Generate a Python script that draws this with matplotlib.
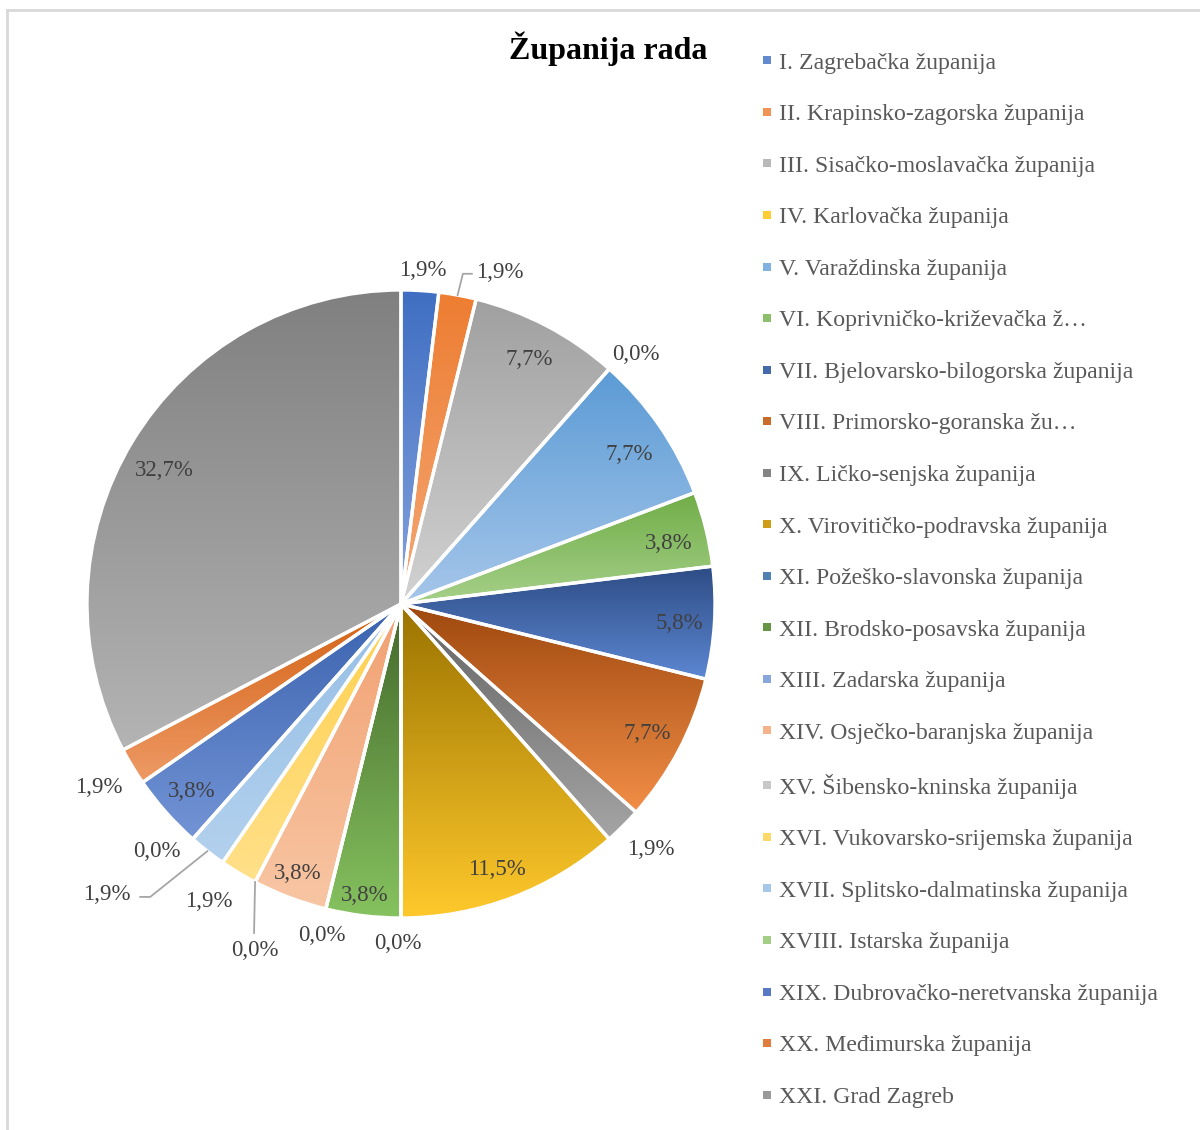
import numpy as np
import matplotlib
matplotlib.use("Agg")
import matplotlib.pyplot as plt
from matplotlib.colors import to_rgb
from matplotlib.lines import Line2D

plt.rcParams['font.family'] = ['Liberation Serif', 'DejaVu Serif']

# data: number of answers per county (52 in total)
zupanije = [
    "I. Zagrebačka županija",
    "II. Krapinsko-zagorska županija",
    "III. Sisačko-moslavačka županija",
    "IV. Karlovačka županija",
    "V. Varaždinska županija",
    "VI. Koprivničko-križevačka ž…",
    "VII. Bjelovarsko-bilogorska županija",
    "VIII. Primorsko-goranska žu…",
    "IX. Ličko-senjska županija",
    "X. Virovitičko-podravska županija",
    "XI. Požeško-slavonska županija",
    "XII. Brodsko-posavska županija",
    "XIII. Zadarska županija",
    "XIV. Osječko-baranjska županija",
    "XV. Šibensko-kninska županija",
    "XVI. Vukovarsko-srijemska županija",
    "XVII. Splitsko-dalmatinska županija",
    "XVIII. Istarska županija",
    "XIX. Dubrovačko-neretvanska županija",
    "XX. Međimurska županija",
    "XXI. Grad Zagreb",
]
odgovori = [1, 1, 4, 0, 4, 2, 3, 4, 1, 6, 0, 2, 0, 2, 0, 1, 1, 0, 2, 1, 17]

# gradient colours (top -> bottom of each slice)
top_col = ["#3F6EC2", "#ED7D31", "#A0A0A0", "#FFC000", "#5B9BD5", "#70AD47",
           "#2E4C85", "#9E480E", "#636363", "#9A7300", "#255E91", "#43682B",
           "#698ED0", "#F1A070", "#B7B7B7", "#FFD04D", "#95BEE5", "#8CC168",
           "#3A62AE", "#D26012", "#808080"]
bot_col = ["#86A3DD", "#F4A877", "#D2D2D2", "#FFD966", "#A6C6EA", "#A6D08A",
           "#5C87D2", "#F28E47", "#A5A5A5", "#FFC92C", "#7AA6D6", "#86C25F",
           "#A6BEE8", "#F8C6A4", "#D9D9D9", "#FFE08A", "#B3D1EE", "#B9DBA3",
           "#7394D6", "#EE9A66", "#B4B4B4"]

# label placement (radius factor, angle shift in degrees)
lab_r = [1.075, 1.11, 0.886, 1.10, 0.873, 0.877, 0.887, 0.882, 1.11, 0.89, 1.073,
         0.927, 1.075, 0.911, 1.19, 1.12, 1.31, 1.10, 0.89, 1.12, 0.87]
lab_da = [0.2, 6.1, -0.3, 1.4, 0.9, 0.6, 0, -0.4, -0.8, 0.7, 0.5,
          0.2, -0.3, 0.3, -4.7, 1.9, 7.5, 3.4, 0.1, 0.3, -1.2]

W, H = 1200, 1130
fig = plt.figure(figsize=(12, 11.3), dpi=100)
ax = fig.add_axes([0, 0, 1, 1])

cx, cy, R = 401, H - 604, 314
wedges, _ = ax.pie(odgovori, startangle=90, counterclock=False,
                   center=(cx, cy), radius=R,
                   wedgeprops=dict(facecolor='none', edgecolor='white',
                                   linewidth=2.4, zorder=3))

# gradient fill clipped to each slice
for w, n, c1, c2 in zip(wedges, odgovori, top_col, bot_col):
    if n == 0:
        continue
    v = w.get_path().vertices
    x0, x1 = v[:, 0].min(), v[:, 0].max()
    y0, y1 = v[:, 1].min(), v[:, 1].max()
    t = np.linspace(0, 1, 256)[:, None]
    grad = (1 - t) * np.array(to_rgb(c1)) + t * np.array(to_rgb(c2))
    im = ax.imshow(grad[:, None, :], extent=[x0, x1, y0, y1], origin='upper',
                   aspect='auto', interpolation='bilinear', zorder=2)
    im.set_clip_path(w)

# percentage labels
total = sum(odgovori)
cum = np.cumsum([0] + odgovori)
for i, n in enumerate(odgovori):
    mid = (cum[i] + n / 2) / total * 360 + lab_da[i]
    a = np.deg2rad(mid)
    lx = cx + lab_r[i] * R * np.sin(a)
    ly = cy + lab_r[i] * R * np.cos(a)
    txt = f"{100 * n / total:.1f}%".replace('.', ',')
    ax.text(lx, ly - 3, txt, ha='center', va='center', fontsize=16.5,
            color='#404040', zorder=5)

    if i in (1, 14, 16):
        amid = np.deg2rad((cum[i] + n / 2) / total * 360)
        ex, ey = cx + R * np.sin(amid), cy + R * np.cos(amid)
        if i == 1:
            xs, ys = [ex, lx - 37, lx - 28], [ey, ly - 4, ly - 4]
        elif i == 14:
            xs, ys = [ex, lx - 1], [ey, ly + 15]
        else:
            xs, ys = [ex, lx + 43, lx + 33], [ey, ly - 5, ly - 5]
        ax.plot(xs, ys, color='#A6A6A6', lw=1.3, zorder=4)

ax.text(608, H - 49, "Županija rada", ha='center', va='center',
        fontsize=23, fontweight='bold', color='black')

# legend
handles = [Line2D([], [], marker='s', linestyle='none', markersize=6,
                  markerfacecolor=(np.array(to_rgb(a)) + np.array(to_rgb(b))) / 2,
                  markeredgewidth=0)
           for a, b in zip(top_col, bot_col)]
ax.legend(handles, zupanije, loc='upper left', bbox_to_anchor=(761, H - 52),
          bbox_transform=ax.transData, frameon=False, borderpad=0,
          borderaxespad=0, fontsize=17.1, labelspacing=1.26, handlelength=0.5,
          handletextpad=0.25, labelcolor='#595959')

# chart border (top and left visible)
ax.plot([7, W], [H - 10, H - 10], color='#D9D9D9', lw=2, zorder=1)
ax.plot([7, 7], [0, H - 10], color='#D9D9D9', lw=2, zorder=1)

ax.set_xlim(0, W)
ax.set_ylim(0, H)
ax.axis('off')

plt.savefig("out.png", dpi=100)
